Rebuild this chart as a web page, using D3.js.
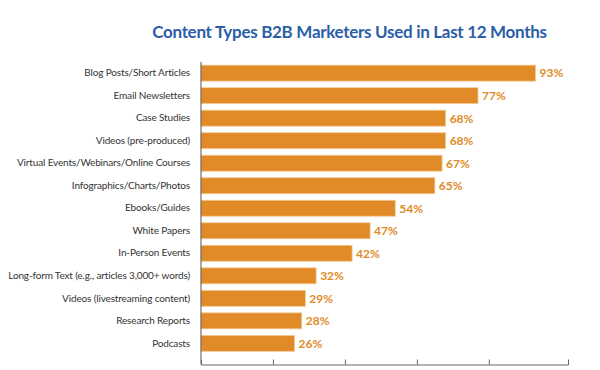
<!DOCTYPE html>
<html>
<head>
<meta charset="utf-8">
<script src="https://cdn.jsdelivr.net/npm/d3@7"></script>
<style>
  body { margin: 0; background: #fff; }
  svg { display: block; }
  .cat text { font-family: Lato, sans-serif; font-size: 10px; letter-spacing: -0.15px; fill: #333; }
</style>
</head>
<body>
<svg id="svg" width="600" height="370"></svg>
<script>
var categories = [
  "Blog Posts/Short Articles",
  "Email Newsletters",
  "Case Studies",
  "Videos (pre-produced)",
  "Virtual Events/Webinars/Online Courses",
  "Infographics/Charts/Photos",
  "Ebooks/Guides",
  "White Papers",
  "In-Person Events",
  "Long-form Text (e.g., articles 3,000+ words)",
  "Videos (livestreaming content)",
  "Research Reports",
  "Podcasts"
];
var values = [93, 77, 68, 68, 67, 65, 54, 47, 42, 32, 29, 28, 26];
var xTicks = [20, 40, 60, 80];
var title = "Content Types B2B Marketers Used in Last 12 Months";

var svg = d3.select("#svg");

var x = d3.scaleLinear()
    .domain([0, 102])
    .range([201, 568]);

var y = d3.scaleBand()
    .domain(categories)
    .range([62, 354.5])
    .paddingInner(0.29)
    .paddingOuter(0.14);

svg.append("text")
    .attr("x", 349.5)
    .attr("y", 38)
    .attr("text-anchor", "middle")
    .attr("font-family", "Lato, sans-serif")
    .attr("font-weight", "bold")
    .attr("font-size", 17)
    .attr("letter-spacing", "-0.3px")
    .attr("fill", "#2c5ea8")
    .text(title);

var data = categories.map(function(c, i) { return { name: c, value: values[i] }; });

svg.selectAll(".bar")
    .data(data)
    .enter().append("rect")
    .attr("class", "bar")
    .attr("x", x(0))
    .attr("y", function(d) { return y(d.name); })
    .attr("width", function(d) { return x(d.value) - x(0); })
    .attr("height", y.bandwidth())
    .attr("fill", "#e08b27")
    .attr("stroke", "#f3cc9a")
    .attr("stroke-width", 0.8);

svg.selectAll(".val")
    .data(data)
    .enter().append("text")
    .attr("class", "val")
    .attr("x", function(d) { return x(d.value) + 4; })
    .attr("y", function(d) { return y(d.name) + y.bandwidth() / 2; })
    .attr("dy", "0.36em")
    .attr("font-family", "Lato, sans-serif")
    .attr("font-weight", "bold")
    .attr("font-size", 12)
    .attr("fill", "#e08b27")
    .text(function(d) { return d.value + "%"; });

// category labels
var yAxis = svg.append("g")
    .attr("class", "cat")
    .attr("transform", "translate(201,0)")
    .call(d3.axisLeft(y).tickSize(0).tickPadding(11));
yAxis.select(".domain").remove();

svg.append("line")
    .attr("x1", 201).attr("x2", 201)
    .attr("y1", 62).attr("y2", 364.5)
    .attr("stroke", "#555");

var xAxis = svg.append("g")
    .attr("transform", "translate(0,364.5)")
    .call(d3.axisBottom(x).tickValues(xTicks).tickSize(-5).tickFormat(""));
xAxis.selectAll("path, line").attr("stroke", "#666");
</script>
</body>
</html>
